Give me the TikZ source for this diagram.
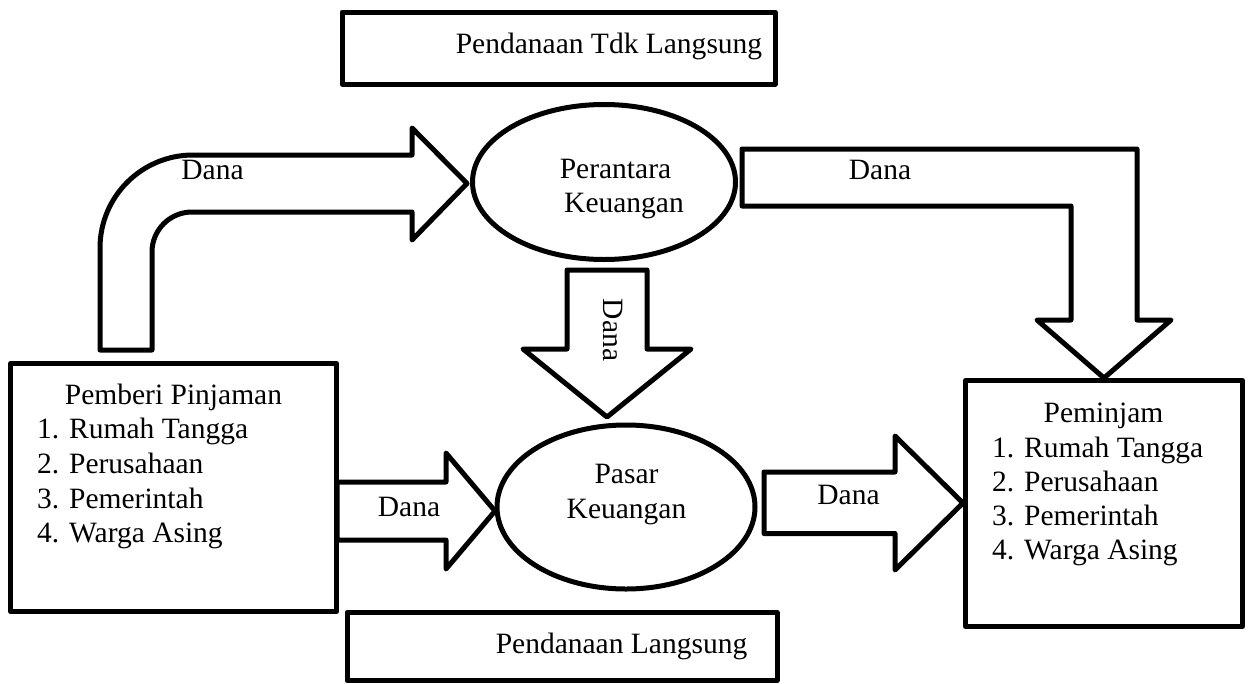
\documentclass[tikz,border=0pt]{standalone}
\usepackage{fontspec}
\setmainfont{Liberation Serif}
\usetikzlibrary{shapes.geometric}
\begin{document}
\begin{tikzpicture}[x=1pt,y=-1pt,
  lw/.style={line width=5pt, line join=round},
  boxnode/.style={lw, draw, rectangle, inner sep=0pt},
  ellnode/.style={lw, draw, ellipse, inner sep=0pt},
  blockarrow/.style={lw, draw, fill=white},
  txt/.style={font=\fontsize{29.5}{34.5}\selectfont, inner sep=0pt},
]
\useasboundingbox (0,0) rectangle (1250,683);

% boxes
\node[boxnode, minimum width=433pt, minimum height=72pt] (topbox) at (558.5,48) {};
\node[boxnode, minimum width=430pt, minimum height=68pt] (botbox) at (562,646.5) {};
\node[boxnode, minimum width=326pt, minimum height=248pt] (lender) at (173.5,487.5) {};
\node[boxnode, minimum width=277pt, minimum height=246pt] (borrower) at (1104,503.5) {};

% ellipses
\node[ellnode, minimum width=263pt, minimum height=155pt] (perantara) at (604,182) {};
\node[ellnode, minimum width=258pt, minimum height=164pt] (pasar) at (626,507) {};

% block arrows
\draw[blockarrow] (100,350) -- (100,248) .. controls (100,196.6) and (141.6,155) .. (193,155)
  -- (412,155) -- (412,128) -- (467,183.5) -- (412,240) -- (412,212) -- (192,212)
  .. controls (169.9,212) and (152,229.9) .. (152,252) -- (152,350) -- cycle;
\coordinate (a1) at (perantara.west);

\draw[blockarrow] (742,149) -- (1137,149) -- (1137,320) -- (1171,320) -- (1104,378)
  -- (1037,320) -- (1071,320) -- (1071,206) -- (742,206) -- cycle;

\draw[blockarrow] (567,270) -- (647,270) -- (647,349) -- (691,349) -- (607,417)
  -- (523,349) -- (567,349) -- cycle;

\draw[blockarrow] (337,482) -- (446,482) -- (446,453) -- (495,511) -- (446,569)
  -- (446,540) -- (337,540) -- cycle;

\draw[blockarrow] (764,472) -- (895,472) -- (895,436) -- (963,503) -- (895,570)
  -- (895,533.5) -- (764,533.5) -- cycle;

% texts
\node[txt, anchor=base] (tTop) at (609,53) {Pendanaan Tdk Langsung};
\node[txt, anchor=base] (tBot) at (621.5,653) {Pendanaan Langsung};
\node[txt, anchor=base] (d1) at (212.5,179) {Dana};
\node[txt, anchor=base] (d2) at (880,179) {Dana};
\node[txt, anchor=base, rotate=-90] (d3) at (603,330) {Dana};
\node[txt, anchor=base] (d4) at (409,516) {Dana};
\node[txt, anchor=base] (d5) at (848.5,504) {Dana};
\node[txt, anchor=base] (p1) at (615.5,178) {Perantara};
\node[txt, anchor=base] (p2) at (624,212) {Keuangan};
\node[txt, anchor=base] (q1) at (626.5,483) {Pasar};
\node[txt, anchor=base] (q2) at (626.5,518) {Keuangan};

\node[txt, anchor=base] (lh) at (173.5,404) {Pemberi Pinjaman};
\node[txt, anchor=base west] (l1) at (37,438) {1. Rumah Tangga};
\node[txt, anchor=base west] (l2) at (37,473) {2. Perusahaan};
\node[txt, anchor=base west] (l3) at (37,508) {3. Pemerintah};
\node[txt, anchor=base west] (l4) at (37,542) {4. Warga Asing};

\node[txt, anchor=base] (rh) at (1103.5,422) {Peminjam};
\node[txt, anchor=base west] (r1) at (992,457) {1. Rumah Tangga};
\node[txt, anchor=base west] (r2) at (992,491) {2. Perusahaan};
\node[txt, anchor=base west] (r3) at (992,525) {3. Pemerintah};
\node[txt, anchor=base west] (r4) at (992,559) {4. Warga Asing};
\end{tikzpicture}
\end{document}
